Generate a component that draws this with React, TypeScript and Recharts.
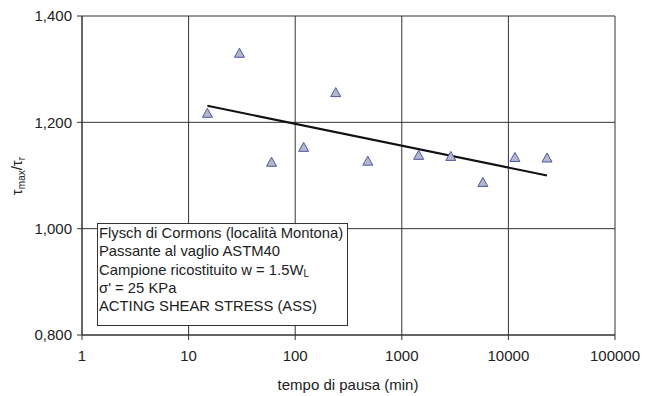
import { CartesianGrid, Scatter, ScatterChart, XAxis, YAxis } from "recharts";

// pause time (min) and peak/residual shear ratio
const PAUSE_MIN = [15, 30, 60, 120, 240, 480, 1440, 2880, 5760, 11520, 23040];
const TAU_RATIO = [1.216, 1.329, 1.124, 1.152, 1.255, 1.126, 1.137, 1.135, 1.086, 1.133, 1.132];

const X_TICKS = [1, 10, 100, 1000, 10000, 100000];
const Y_TICKS = [0.8, 1.0, 1.2, 1.4];

const FONT = "'Liberation Sans', Arial, sans-serif";
const INK = "#222";
const GRID = "#333";

const points = PAUSE_MIN.map((t, i) => ({ t, r: TAU_RATIO[i] }));

// logarithmic trend line: least squares of r against log10(t)
function logTrend(xs: number[], ys: number[]) {
  const lx = xs.map((x) => Math.log10(x));
  const n = xs.length;
  const mx = lx.reduce((s, v) => s + v, 0) / n;
  const my = ys.reduce((s, v) => s + v, 0) / n;
  let sxy = 0;
  let sxx = 0;
  lx.forEach((v, i) => {
    sxy += (v - mx) * (ys[i] - my);
    sxx += (v - mx) * (v - mx);
  });
  const b = sxy / sxx;
  const a = my - b * mx;
  const ends = [xs[0], xs[n - 1]];
  return ends.map((t) => ({ t, r: a + b * Math.log10(t) }));
}
const trend = logTrend(PAUSE_MIN, TAU_RATIO);

function Triangle(props: { cx?: number; cy?: number }) {
  const { cx, cy } = props;
  if (cx == null || cy == null) return <g />;
  return (
    <polygon
      points={`${cx},${cy - 5.5} ${cx + 5},${cy + 3.5} ${cx - 5},${cy + 3.5}`}
      fill="#b5b8cb"
      stroke="#4a58a8"
      strokeWidth={1}
    />
  );
}

const tick = { fill: INK, fontSize: 15, fontFamily: FONT };

export default function App() {
  return (
    <div style={{ position: "absolute", left: 0, top: 0, width: 645, height: 396, background: "#fff" }}>
      <ScatterChart width={645} height={396} margin={{ top: 16, right: 30, bottom: 21, left: 20 }}>
        <CartesianGrid stroke={GRID} strokeWidth={1} />
        <XAxis
          type="number"
          dataKey="t"
          scale="log"
          domain={[1, 100000]}
          ticks={X_TICKS}
          allowDataOverflow
          height={40}
          tick={tick}
          tickSize={5}
          tickMargin={10}
          axisLine={{ stroke: GRID }}
          tickLine={{ stroke: GRID }}
        />
        <YAxis
          type="number"
          dataKey="r"
          domain={[0.8, 1.4]}
          ticks={Y_TICKS}
          width={62}
          tick={tick}
          tickSize={5}
          tickMargin={5}
          tickFormatter={(v: number) => v.toFixed(3).replace(".", ",")}
          axisLine={{ stroke: GRID }}
          tickLine={{ stroke: GRID }}
        />
        <Scatter
          data={trend}
          line={{ stroke: "#111", strokeWidth: 2 }}
          shape={() => <g />}
          isAnimationActive={false}
        />
        <Scatter data={points} shape={<Triangle />} isAnimationActive={false} />
        <text
          transform="translate(22,176) rotate(-90)"
          textAnchor="middle"
          fill={INK}
          fontSize={15}
          fontFamily={FONT}
        >
          τ<tspan fontSize={10} dy={3}>max</tspan>
          <tspan dy={-3}>/τ</tspan>
          <tspan fontSize={10} dy={3}>r</tspan>
        </text>
        <text x={348} y={390} textAnchor="middle" fill={INK} fontSize={15} fontFamily={FONT}>
          tempo di pausa (min)
        </text>
      </ScatterChart>
      <div
        style={{
          position: "absolute",
          left: 97,
          top: 223,
          width: 251,
          height: 103,
          border: `1px solid ${GRID}`,
          background: "#fff",
          fontFamily: FONT,
          fontSize: 14.8,
          lineHeight: "18.3px",
          color: INK,
          paddingLeft: 1,
          boxSizing: "border-box",
          whiteSpace: "nowrap",
        }}
      >
        <div>Flysch di Cormons (località Montona)</div>
        <div>Passante al vaglio ASTM40</div>
        <div>
          Campione ricostituito w = 1.5W<sub style={{ fontSize: 10, verticalAlign: "-2px", lineHeight: 0 }}>L</sub>
        </div>
        <div>σ' = 25 KPa</div>
        <div>ACTING SHEAR STRESS (ASS)</div>
      </div>
    </div>
  );
}
